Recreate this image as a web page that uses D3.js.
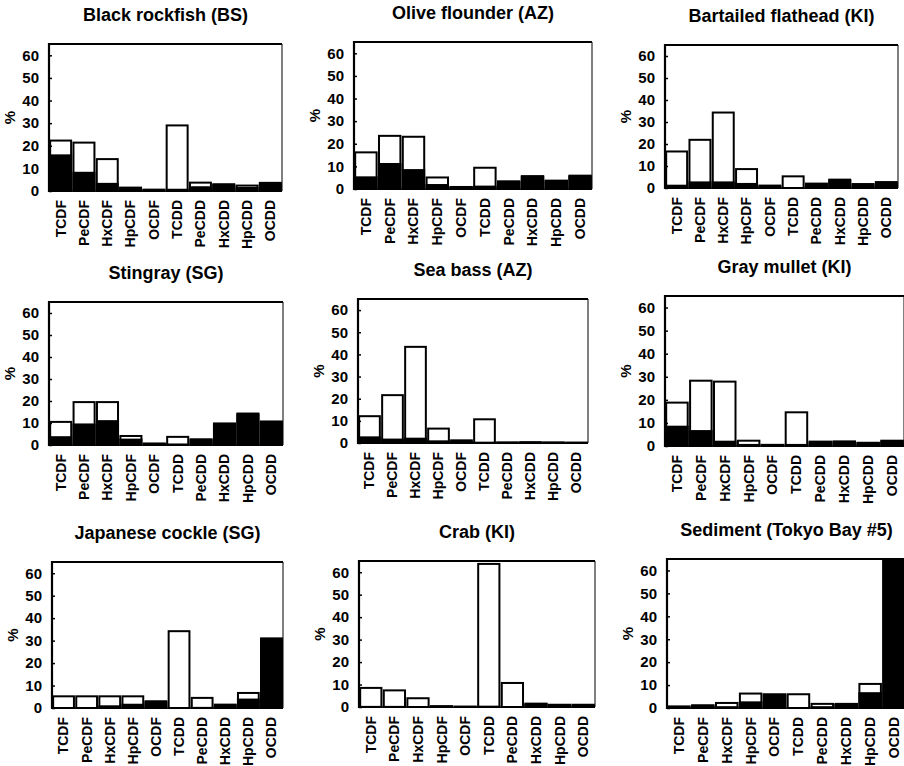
<!DOCTYPE html>
<html>
<head>
<meta charset="utf-8">
<script src="https://cdn.jsdelivr.net/npm/d3@7"></script>
<style>
  body { margin: 0; background: #fff; }
  svg { display: block; font-family: 'Liberation Sans', Arial, sans-serif; }
</style>
</head>
<body>
<svg id="chart" width="904" height="766"></svg>
<script>
// congener categories on the x axis
const congeners = ['TCDF', 'PeCDF', 'HxCDF', 'HpCDF', 'OCDF', 'TCDD', 'PeCDD', 'HxCDD', 'HpCDD', 'OCDD']
const yTicks = [0, 10, 20, 30, 40, 50, 60]

const titles = [
  'Black rockfish (BS)', 'Olive flounder (AZ)', 'Bartailed flathead (KI)',
  'Stingray (SG)', 'Sea bass (AZ)', 'Gray mullet (KI)',
  'Japanese cockle (SG)', 'Crab (KI)', 'Sediment (Tokyo Bay #5)'
]

// total height of each bar (%), one row per panel
const totals = [
  [22.3, 21.4, 14.1, 1.5, 0.6, 29.0, 3.7, 3.0, 2.4, 3.6],
  [16.2, 23.5, 23.1, 5.1, 0.9, 9.4, 3.4, 5.7, 3.7, 5.9],
  [16.6, 21.9, 34.3, 8.6, 1.1, 5.3, 2.0, 3.8, 1.8, 2.7],
  [10.5, 19.5, 19.5, 4.1, 0.7, 3.7, 2.6, 9.8, 14.3, 10.7],
  [12.1, 21.6, 43.4, 6.5, 1.2, 10.7, 0.3, 0.4, 0.3, 0.2],
  [18.8, 28.3, 27.9, 2.3, 0.5, 14.6, 1.9, 2.0, 1.4, 2.3],
  [5.2, 5.2, 5.2, 5.2, 3.0, 34.2, 4.5, 1.5, 6.7, 31.0],
  [8.5, 7.4, 3.9, 0.4, 0.2, 63.7, 10.7, 1.5, 1.0, 1.0],
  [0.7, 1.2, 2.2, 6.3, 6.0, 6.0, 1.8, 1.8, 10.5, 65.0]
]

// black (lower) part of each bar (%)
const blacks = [
  [16.2, 8.5, 3.6, 1.3, 0.5, 1.0, 2.1, 3.0, 1.8, 3.5],
  [5.6, 11.5, 8.8, 2.2, 0.9, 1.5, 3.4, 5.7, 3.7, 5.9],
  [1.5, 3.0, 3.0, 2.3, 1.0, 0.4, 2.0, 3.8, 1.5, 2.5],
  [4.0, 9.8, 11.3, 2.9, 0.7, 0.7, 2.6, 9.8, 14.3, 10.7],
  [3.0, 2.0, 2.4, 1.2, 1.0, 0.6, 0.2, 0.3, 0.2, 0.1],
  [8.8, 6.9, 2.3, 0.9, 0.5, 0.9, 1.9, 2.0, 1.4, 2.3],
  [0.3, 0.3, 1.2, 1.9, 3.0, 0.3, 0.5, 1.5, 4.2, 31.0],
  [0.5, 0.5, 0.4, 0.3, 0.1, 0.6, 0.3, 1.5, 1.0, 1.0],
  [0.5, 1.0, 0.8, 2.9, 6.0, 0.3, 0.8, 1.8, 6.9, 65.0]
]

// plot box of each panel: left, right, top, zero line
const boxes = [
  [49, 282, 44, 191], [354, 592, 42, 189], [665, 898, 45, 188],
  [49, 283, 302, 445], [358, 588, 299, 443], [665, 904, 296, 446],
  [52, 283, 562, 708], [359, 595, 561, 707], [667, 906, 559, 708]
]

const font = "'Liberation Sans', Arial, sans-serif"
const svg = d3.select('#chart')

boxes.forEach((b, i) => {
  const [left, right, top, zero] = b
  const g = svg.append('g')

  const x = d3.scaleBand()
    .domain(congeners)
    .range([left, right])
    .paddingInner(0.1)
    .paddingOuter(0.05)

  const y = d3.scaleLinear()
    .domain([0, 65])
    .range([zero, top])

  // title
  g.append('text')
    .attr('x', (left + right) / 2)
    .attr('y', top - 23)
    .attr('text-anchor', 'middle')
    .attr('font-size', 18)
    .attr('font-weight', 'bold')
    .text(titles[i])

  // white bars (total) with outline
  const rows = congeners.map((c, j) => ({ c, total: totals[i][j], black: blacks[i][j] }))
  g.selectAll('rect.total').data(rows)
    .enter().append('rect')
      .attr('class', 'total')
      .attr('x', d => x(d.c))
      .attr('y', d => y(d.total))
      .attr('width', x.bandwidth())
      .attr('height', d => y(0) - y(d.total))
      .attr('fill', '#fff')
      .attr('stroke', '#000')
      .attr('stroke-width', 2)

  // black part
  g.selectAll('rect.black').data(rows)
    .enter().append('rect')
      .attr('class', 'black')
      .attr('x', d => x(d.c) - 1)
      .attr('y', d => y(d.black))
      .attr('width', x.bandwidth() + 2)
      .attr('height', d => y(0) - y(d.black) + 1)
      .attr('fill', '#000')

  // frame
  g.append('path')
    .attr('d', `M${left},${zero + 1}V${top}H${right}`)
    .attr('fill', 'none')
    .attr('stroke', '#000')
    .attr('stroke-width', 2.2)
  g.append('line')
    .attr('x1', right).attr('x2', right)
    .attr('y1', top).attr('y2', zero)
    .attr('stroke', '#000')
    .attr('stroke-width', 1)
  g.append('line')
    .attr('x1', left).attr('x2', right)
    .attr('y1', zero).attr('y2', zero)
    .attr('stroke', '#000')
    .attr('stroke-width', 1)

  // y axis: inward ticks, bold labels
  const yAxis = d3.axisLeft(y).tickValues(yTicks).tickSize(-3).tickPadding(10)
  const ya = g.append('g')
    .attr('transform', `translate(${left},0)`)
    .call(yAxis)
  ya.select('.domain').remove()
  ya.selectAll('line').attr('stroke-width', 1.5)
  ya.selectAll('text')
    .attr('font-size', 15)
    .attr('font-weight', 'bold')
    .attr('font-family', font)
    .attr('fill', '#000')

  // y label
  g.append('text')
    .attr('transform', `translate(${left - 34},${(top + zero) / 2}) rotate(-90)`)
    .attr('text-anchor', 'middle')
    .attr('font-size', 15)
    .attr('font-weight', 'bold')
    .text('%')

  // x axis labels, rotated
  const xAxis = d3.axisBottom(x).tickSize(0).tickPadding(0)
  const xa = g.append('g')
    .attr('transform', `translate(0,${zero})`)
    .call(xAxis)
  xa.select('.domain').remove()
  xa.selectAll('text')
    .attr('transform', 'rotate(-90)')
    .attr('x', -9)
    .attr('y', 0)
    .attr('dy', '0.35em')
    .attr('text-anchor', 'end')
    .attr('font-size', 14)
    .attr('font-weight', 'bold')
    .attr('font-family', font)
    .attr('fill', '#000')
})
</script>
</body>
</html>
